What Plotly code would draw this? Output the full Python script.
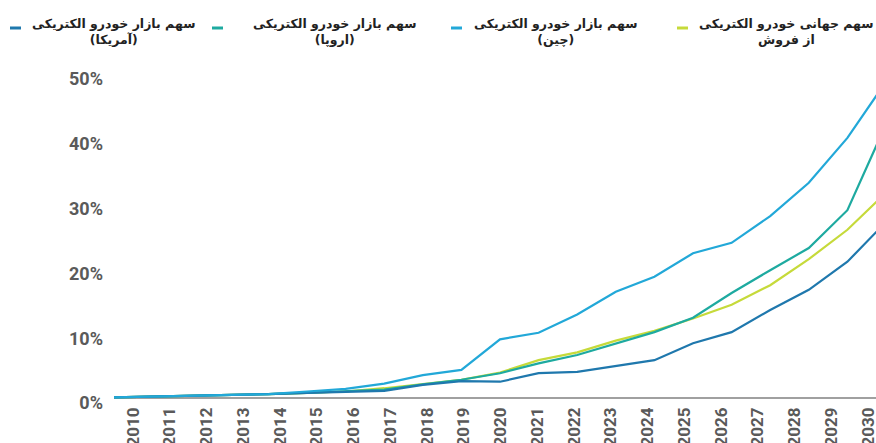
import plotly.graph_objects as go

years = list(range(2010, 2031))

us = [0.1, 0.2, 0.3, 0.5, 0.6, 0.8, 1.0, 1.1, 2.0, 2.6, 2.5, 3.8, 4.0, 4.9, 5.8, 8.4, 10.1, 13.5, 16.6, 20.9, 27.0]
europe = [0.1, 0.2, 0.3, 0.5, 0.6, 0.8, 1.0, 1.3, 2.1, 2.8, 3.8, 5.3, 6.6, 8.4, 10.1, 12.3, 16.1, 19.6, 23.0, 28.8, 42.0]
china = [0.1, 0.2, 0.3, 0.5, 0.6, 1.0, 1.4, 2.2, 3.5, 4.3, 9.0, 10.0, 12.8, 16.3, 18.6, 22.2, 23.8, 27.9, 33.0, 39.9, 48.5]
world = [0.1, 0.2, 0.3, 0.5, 0.6, 0.8, 1.0, 1.5, 2.1, 2.8, 3.9, 5.8, 7.0, 8.8, 10.3, 12.2, 14.3, 17.3, 21.3, 25.8, 31.5]

series_names = [
    "سهم بازار خودرو الکتریکی<br>(آمریکا)",
    "سهم بازار خودرو الکتریکی<br>(اروپا)",
    "سهم بازار خودرو الکتریکی<br>(چین)",
    "سهم جهانی خودرو الکتریکی<br>از فروش",
]
series_values = [us, europe, china, world]
series_colors = ["#1f78ad", "#1eaaa0", "#22a8d8", "#c6da3a"]

y_ticks = [0, 10, 20, 30, 40, 50]
y_labels = ["0%", "10%", "20%", "30%", "40%", "50%"]

W, H = 876, 443
ml, mr, mt, mb = 114, 0, 59, 40
ZERO_PX = 398          # pixel row of the 0% data line
DATA_SCALE = 6.52      # pixels per percent for data
LABEL_SCALE = 6.48     # pixels per percent for tick labels

fig = go.Figure()

for idx in [3, 1, 0, 2]:
    fig.add_trace(go.Scatter(
        x=years, y=series_values[idx], mode="lines",
        line=dict(color=series_colors[idx], width=2.2),
        name=series_names[idx], showlegend=False, hoverinfo="skip",
    ))

# invisible helper trace so the label axes are drawn
fig.add_trace(go.Scatter(x=years, y=[0] * len(years), xaxis="x2", yaxis="y2",
                         mode="lines", line=dict(width=0), opacity=0,
                         showlegend=False, hoverinfo="skip"))

y_tick_font = dict(family="Liberation Sans Narrow, Roboto, Arial Narrow, sans-serif",
                   size=18, color="#5a5a5a", weight="bold")
x_tick_font = dict(family="Liberation Sans Narrow, Roboto, Arial Narrow, sans-serif",
                   size=17, color="#5a5a5a", weight="bold")

bottom_px = H - mb
fig.update_layout(
    template="none",
    width=W, height=H,
    margin=dict(l=ml, r=mr, t=mt, b=mb, autoexpand=False),
    paper_bgcolor="white", plot_bgcolor="white",
    xaxis=dict(range=[2010, 2010 + (W - ml) / 38.6], showgrid=False, zeroline=False,
               showticklabels=False, showline=False, fixedrange=True, automargin=False),
    yaxis=dict(range=[-(bottom_px - ZERO_PX) / DATA_SCALE, (ZERO_PX - mt) / DATA_SCALE],
               showgrid=False, zeroline=True, zerolinecolor="#a0a0a0", zerolinewidth=1.5,
               showticklabels=False, showline=False, fixedrange=True, automargin=False),
    xaxis2=dict(overlaying="x", anchor="y", side="bottom",
                range=[2010 - 19 / 36.75, 2010 + (W - ml - 19) / 36.75],
                tickmode="array", tickvals=years, ticktext=[str(y) for y in years],
                tickangle=-90, tickfont=x_tick_font, showgrid=False, zeroline=False,
                showline=False, ticks="", ticklabeloverflow="allow",
                ticklabelstandoff=0, automargin=False, fixedrange=True),
    yaxis2=dict(overlaying="y", anchor="x", side="left",
                range=[0, (bottom_px - mt) / LABEL_SCALE],
                tickmode="array", tickvals=y_ticks, ticktext=y_labels,
                tickfont=y_tick_font, showgrid=False, zeroline=False, showline=False,
                ticks="", ticklabelstandoff=10, automargin=False, fixedrange=True),
)

# legend built from annotations and short dashes (pixel positions -> paper)
pw, ph = W - ml - mr, H - mt - mb
legend_centers = [113, 334, 555, 786]
dash_x = [15, 217, 456, 682]
for i in range(4):
    fig.add_annotation(
        x=(legend_centers[i] - ml) / pw, y=(H - 31 - mb) / ph,
        xref="paper", yref="paper",
        text=series_names[i], showarrow=False, align="center",
        xanchor="center", yanchor="middle",
        font=dict(family="DejaVu Sans, Noto Sans, sans-serif", size=12.5,
                  color="#222222", weight="bold"),
    )
    fig.add_shape(type="line", xref="paper", yref="paper",
                  x0=(dash_x[i] - 5 - ml) / pw, x1=(dash_x[i] + 6 - ml) / pw,
                  y0=(H - 28 - mb) / ph, y1=(H - 28 - mb) / ph,
                  line=dict(color=series_colors[i], width=3))

fig.write_html(
    "out.html",
    config={"displayModeBar": False},
    post_script="document.body.style.margin='0';document.body.style.overflow='hidden';",
)
